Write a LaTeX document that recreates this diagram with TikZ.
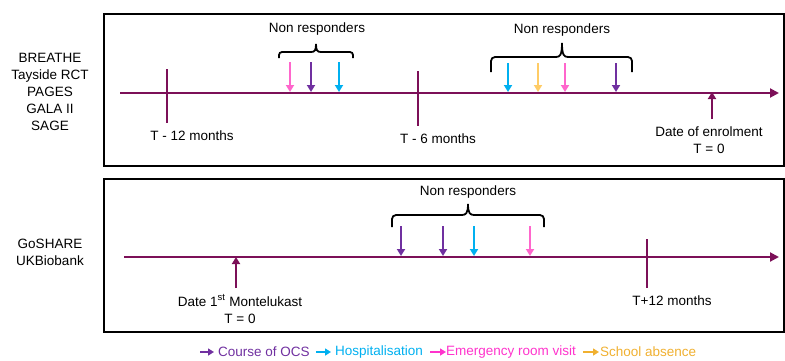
\documentclass[tikz,border=0pt]{standalone}
\usepackage{fontspec}
\setmainfont{Liberation Sans}
\usetikzlibrary{arrows.meta}
\definecolor{tl}{RGB}{124,16,88}
\definecolor{ocs}{RGB}{112,48,160}
\definecolor{hosp}{RGB}{0,176,240}
\definecolor{er}{RGB}{255,102,204}
\definecolor{ertext}{RGB}{255,51,204}
\definecolor{school}{RGB}{255,204,102}
\definecolor{schooltext}{RGB}{240,176,48}
\tikzset{
  lbl/.style={font=\fontsize{13.5}{17}\selectfont, inner sep=0pt, align=center},
  panel/.style={draw=black, line width=2pt},
  axis/.style={draw=tl, line width=2pt, -{Triangle[length=9pt,width=9pt]}},
  tick/.style={draw=tl, line width=2pt},
  evt/.style={line width=2pt, -{Triangle[length=7pt,width=8pt]}, shorten >=-1pt},
  brc/.style={draw=black, line width=1.8pt},
  leg/.style={line width=2.2pt, -{Triangle[length=6pt,width=7pt]}}
}
\begin{document}
\begin{tikzpicture}[x=1pt,y=-1pt]
\useasboundingbox (0,0) rectangle (785,360);
% panels
\node[panel, minimum width=680pt, minimum height=152pt, inner sep=0pt, anchor=north west] (p1) at (103,13) {};
\node[panel, minimum width=680pt, minimum height=153pt, inner sep=0pt, anchor=north west] (p2) at (103,178) {};
% left labels
\node[lbl] (g1) at (50,92) {BREATHE\\Tayside RCT\\PAGES\\GALA II\\SAGE};
\node[lbl] (g2) at (50,252) {GoSHARE\\UKBiobank};

% ---------- top timeline ----------
\coordinate (a1s) at (120,93);
\coordinate (a1e) at (779,93);
\draw[axis] (a1s) -- (a1e);
\coordinate (t12a) at (167,69); \coordinate (t12b) at (167,123);
\draw[tick] (t12a) -- (t12b);
\node[lbl] (lt12) at (192,136) {T - 12 months};
\coordinate (t6a) at (418,71); \coordinate (t6b) at (418,126);
\draw[tick] (t6a) -- (t6b);
\node[lbl] (lt6) at (438,139) {T - 6 months};
\coordinate (enb) at (712,119); \coordinate (ent) at (712,93);
\draw[evt, tl] (enb) -- (ent);
\node[lbl] (len) at (709,140) {Date of enrolment\\T = 0};

% non responders 1
\node[lbl] (nr1) at (317,29) {Non responders};
\draw[brc] (279,58) [rounded corners=3pt] -- (279,52) [sharp corners] -- (311,52) .. controls (315,52) and (316,50) .. (316,44);
\draw[brc] (353,58) [rounded corners=3pt] -- (353,52) [sharp corners] -- (321,52) .. controls (317,52) and (316,50) .. (316,44);
\foreach \x/\c [count=\i] in {290/er,311/ocs,339/hosp}{
  \coordinate (u\i s) at (\x,62); \coordinate (u\i e) at (\x,91);
  \draw[evt, \c] (u\i s) -- (u\i e);
}
% non responders 2
\node[lbl] (nr2) at (562,30) {Non responders};
\draw[brc] (491,72) [rounded corners=4pt] -- (491,57) [sharp corners] -- (556,57) .. controls (560,57) and (562,55) .. (562,43);
\draw[brc] (632,72) [rounded corners=4pt] -- (632,57) [sharp corners] -- (568,57) .. controls (564,57) and (562,55) .. (562,43);
\foreach \x/\c [count=\i] in {508/hosp,538/school,565/er,616/ocs}{
  \coordinate (v\i s) at (\x,63); \coordinate (v\i e) at (\x,91);
  \draw[evt, \c] (v\i s) -- (v\i e);
}

% ---------- bottom timeline ----------
\coordinate (a2s) at (124,257);
\coordinate (a2e) at (779,257);
\draw[axis] (a2s) -- (a2e);
\coordinate (mb) at (236,288); \coordinate (mt) at (236,258);
\draw[evt, tl] (mb) -- (mt);
\node[lbl] (lm) at (240,309) {Date 1\textsuperscript{st} Montelukast\\T = 0};
\coordinate (p12a) at (647,239); \coordinate (p12b) at (647,288);
\draw[tick] (p12a) -- (p12b);
\node[lbl] (lp12) at (672,301) {T+12 months};

\node[lbl] (nr3) at (468,192) {Non responders};
\draw[brc] (392,227) [rounded corners=4pt] -- (392,215) [sharp corners] -- (462,215) .. controls (466,215) and (468,213) .. (468,204);
\draw[brc] (544,227) [rounded corners=4pt] -- (544,215) [sharp corners] -- (474,215) .. controls (470,215) and (468,213) .. (468,204);
\foreach \x/\c [count=\i] in {401/ocs,443/ocs,474/hosp,530/er}{
  \coordinate (w\i s) at (\x,226); \coordinate (w\i e) at (\x,255);
  \draw[evt, \c] (w\i s) -- (w\i e);
}

% ---------- legend ----------
\coordinate (l1s) at (200,352); \coordinate (l1e) at (214,352);
\draw[leg, ocs] (l1s) -- (l1e);
\node[lbl, anchor=west, text=ocs] (l1) at (218,352) {Course of OCS};
\coordinate (l2s) at (316,352); \coordinate (l2e) at (331,352);
\draw[leg, hosp] (l2s) -- (l2e);
\node[lbl, anchor=west, text=hosp] (l2) at (335,352) {Hospitalisation};
\coordinate (l3s) at (430,352); \coordinate (l3e) at (446,352);
\draw[leg, ertext] (l3s) -- (l3e);
\node[lbl, anchor=west, text=ertext] (l3) at (446,352) {Emergency room visit};
\coordinate (l4s) at (583,352); \coordinate (l4e) at (599,352);
\draw[leg, schooltext] (l4s) -- (l4e);
\node[lbl, anchor=west, text=schooltext] (l4) at (600,352) {School absence};
\end{tikzpicture}
\end{document}
